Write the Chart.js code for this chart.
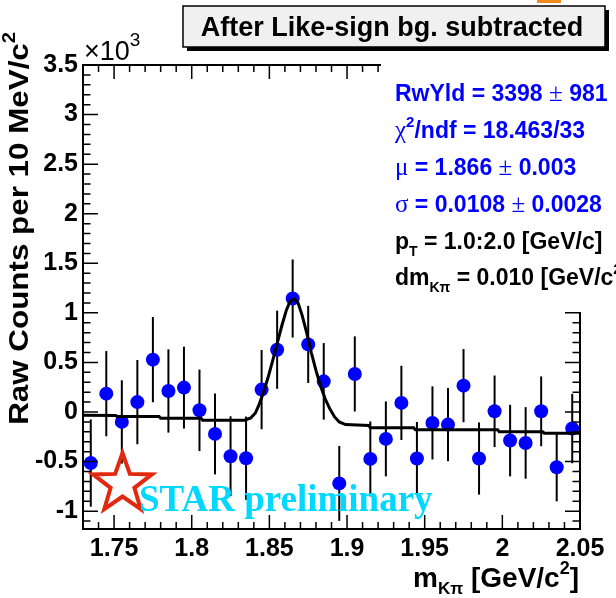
<!DOCTYPE html>
<html>
<head>
<meta charset="utf-8">
<script src="https://cdn.jsdelivr.net/npm/chart.js@4.4.1/dist/chart.umd.min.js"></script>
<style>
html,body{margin:0;padding:0;background:#fff;}
#wrap{width:616px;height:598px;position:relative;}
</style>
</head>
<body>
<div id="wrap"><canvas id="c" width="616" height="598"></canvas></div>
<script>
// ---- data (counts in units of 10^3) ----
const massBins = [1.735,1.745,1.755,1.765,1.775,1.785,1.795,1.805,1.815,1.825,1.835,1.845,1.855,1.865,1.875,1.885,
                  1.895,1.905,1.915,1.925,1.935,1.945,1.955,1.965,1.975,1.985,1.995,2.005,2.015,2.025,2.035,2.045];
const rawCounts = [-0.515,0.185,-0.100,0.100,0.528,0.212,0.246,0.017,-0.221,-0.446,-0.466,0.226,0.628,1.145,0.682,0.309,
                   -0.720,0.384,-0.473,-0.271,0.092,-0.469,-0.110,-0.127,0.266,-0.469,0.007,-0.288,-0.312,0.007,-0.557,-0.167];
const countErrors = [0.44,0.43,0.42,0.425,0.43,0.42,0.413,0.411,0.408,0.403,0.42,0.40,0.394,0.394,0.389,0.386,
                     0.378,0.379,0.378,0.378,0.374,0.369,0.369,0.369,0.369,0.364,0.361,0.361,0.361,0.352,0.344,0.35];
// fit curve
const fitMass = [1.730,1.751,1.752,1.779,1.780,1.806,1.807,1.834,1.838,1.841,1.8435,1.846,1.849,1.852,1.855,1.858,1.861,
                 1.8635,1.866,1.8685,1.871,1.874,1.877,1.880,1.883,1.886,1.889,1.892,1.895,1.899,1.914,1.915,1.943,1.944,
                 1.997,1.998,2.026,2.027,2.050];
const fitCounts = [-0.033,-0.035,-0.046,-0.046,-0.063,-0.063,-0.083,-0.083,-0.06,-0.01,0.08,0.19,0.34,0.51,0.69,0.87,1.03,
                   1.12,1.14,1.10,0.98,0.80,0.60,0.42,0.26,0.13,0.03,-0.05,-0.10,-0.127,-0.135,-0.16,-0.16,-0.18,
                   -0.18,-0.20,-0.20,-0.214,-0.214];
const xTickValues = [1.75,1.8,1.85,1.9,1.95,2.0,2.05];
const xTickLabels = ['1.75','1.8','1.85','1.9','1.95','2','2.05'];
const yTickValues = [-1,-0.5,0,0.5,1,1.5,2,2.5,3,3.5];
const yTickLabels = ['-1','-0.5','0','0.5','1','1.5','2','2.5','3','3.5'];

const SANS = '"Liberation Sans", Arial, Helvetica, sans-serif';
const SERIF = '"Liberation Serif", "Times New Roman", serif';
const BLUE = '#0000ff';

function rich(ctx, x, y, segs, align) {
  let w = 0;
  segs.forEach(s => { ctx.font = s.f; w += ctx.measureText(s.t).width; });
  let cx = align === 'right' ? x - w : (align === 'center' ? x - w / 2 : x);
  segs.forEach(s => {
    ctx.font = s.f; ctx.fillStyle = s.c || '#000';
    ctx.fillText(s.t, cx, y + (s.dy || 0));
    cx += ctx.measureText(s.t).width;
  });
}

const rootStyle = {
  id: 'rootStyle',
  beforeDatasetsDraw(chart) {
    const {ctx, scales: {x, y}} = chart;
    ctx.save();
    ctx.strokeStyle = '#000'; ctx.lineWidth = 2;
    massBins.forEach((m, i) => {
      const px = x.getPixelForValue(m);
      ctx.beginPath();
      ctx.moveTo(px, y.getPixelForValue(rawCounts[i] + countErrors[i]));
      ctx.lineTo(px, y.getPixelForValue(rawCounts[i] - countErrors[i]));
      ctx.stroke();
    });
    ctx.restore();
  },
  afterDraw(chart) {
    const {ctx, chartArea: a, scales: {x, y}} = chart;
    ctx.save();
    // frame
    ctx.strokeStyle = '#000'; ctx.lineWidth = 2;
    ctx.strokeRect(a.left, a.top, a.right - a.left, a.bottom - a.top);
    ctx.lineWidth = 1.5;
    ctx.beginPath();
    for (let k = 0; k <= 32; k++) {
      const v = 1.73 + k * 0.01;
      const px = x.getPixelForValue(v);
      const major = Math.abs(v * 20 - Math.round(v * 20)) < 1e-6;
      const len = major ? 14 : 7;
      ctx.moveTo(px, a.bottom); ctx.lineTo(px, a.bottom - len);
      ctx.moveTo(px, a.top); ctx.lineTo(px, a.top + len);
    }
    for (let k = -11; k <= 35; k++) {
      const py = y.getPixelForValue(k / 10);
      const len = (k % 5 === 0) ? 15 : 7.5;
      ctx.moveTo(a.left, py); ctx.lineTo(a.left + len, py);
      ctx.moveTo(a.right, py); ctx.lineTo(a.right - len, py);
    }
    ctx.stroke();

    // white stats pave covering the upper right of the frame
    ctx.fillStyle = '#fff';
    ctx.fillRect(381, 58, 235, 254);

    ctx.textBaseline = 'alphabetic';
    // title box with shadow
    ctx.fillStyle = '#000';
    ctx.fillRect(187, 10, 422, 41);
    ctx.fillStyle = '#f0f0f0';
    ctx.fillRect(183, 6, 422, 41);
    ctx.strokeStyle = '#000'; ctx.lineWidth = 1.5;
    ctx.strokeRect(183, 6, 422, 41);
    ctx.fillStyle = '#000';
    ctx.font = 'bold 27px ' + SANS;
    ctx.textAlign = 'center';
    ctx.fillText('After Like-sign bg. subtracted', 392, 36);
    ctx.textAlign = 'left';
    // orange sliver at the top
    ctx.fillStyle = '#f08a1c';
    ctx.fillRect(537, 0, 24, 3);

    // x10^3
    rich(ctx, 84, 60, [
      {t: '\u00d710', f: '27px ' + SANS},
      {t: '3', f: '19px ' + SANS, dy: -14}
    ], 'left');

    // stats text
    const B = 'bold 23px ' + SANS, S = '25px ' + SERIF, SUP = 'bold 15px ' + SANS, SUB = 'bold 14px ' + SANS;
    const sx = 395;
    rich(ctx, sx, 101, [{t:'RwYld = 3398 ', f:B, c:BLUE}, {t:'\u00b1', f:S, c:BLUE}, {t:' 981', f:B, c:BLUE}]);
    rich(ctx, sx, 138, [{t:'\u03c7', f:S, c:BLUE}, {t:'2', f:SUP, c:BLUE, dy:-11}, {t:'/ndf = 18.463/33', f:B, c:BLUE}]);
    rich(ctx, sx, 175, [{t:'\u03bc', f:S, c:BLUE}, {t:' = 1.866 ', f:B, c:BLUE}, {t:'\u00b1', f:S, c:BLUE}, {t:' 0.003', f:B, c:BLUE}]);
    rich(ctx, sx, 212, [{t:'\u03c3', f:S, c:BLUE}, {t:' = 0.0108 ', f:B, c:BLUE}, {t:'\u00b1', f:S, c:BLUE}, {t:' 0.0028', f:B, c:BLUE}]);
    rich(ctx, sx, 249, [{t:'p', f:B}, {t:'T', f:SUB, dy:7}, {t:' = 1.0:2.0 [GeV/c]', f:B}]);
    rich(ctx, sx, 285, [{t:'dm', f:B}, {t:'K\u03c0', f:SUB, dy:7}, {t:' = 0.010 [GeV/c', f:B}, {t:'2', f:SUP, dy:-11}]);

    // x axis title
    rich(ctx, 579, 587, [
      {t:'m', f:'bold 28px ' + SANS}, {t:'K\u03c0', f:'bold 17px ' + SANS, dy:7},
      {t:' [GeV/c', f:'bold 28px ' + SANS}, {t:'2', f:'bold 18px ' + SANS, dy:-13},
      {t:']', f:'bold 28px ' + SANS}
    ], 'right');

    // y axis title (rotated)
    ctx.save();
    ctx.translate(28, 0);
    ctx.rotate(-Math.PI / 2);
    ctx.scale(1.12, 1);
    rich(ctx, -32 / 1.12, 0, [
      {t:'Raw Counts per 10 MeV/c', f:'bold 28px ' + SANS},
      {t:'2', f:'bold 18px ' + SANS, dy:-13}
    ], 'right');
    ctx.restore();

    // STAR logo + preliminary
    const cx = a.left + 39.5, cy = a.bottom - 45, R = 31, r = 12.5;
    ctx.beginPath();
    for (let k = 0; k < 10; k++) {
      const ang = -Math.PI / 2 + k * Math.PI / 5;
      const rr = k % 2 === 0 ? R : r;
      const px = cx + rr * Math.cos(ang), py = cy + rr * Math.sin(ang);
      if (k === 0) ctx.moveTo(px, py); else ctx.lineTo(px, py);
    }
    ctx.closePath();
    ctx.strokeStyle = '#e2280e'; ctx.lineWidth = 4; ctx.lineJoin = 'miter';
    ctx.stroke();
    ctx.fillStyle = '#00d8ff';
    ctx.font = 'bold 37px ' + SERIF;
    ctx.fillText('STAR preliminary', a.left + 56, a.bottom - 18);
    ctx.restore();
  }
};

new Chart(document.getElementById('c'), {
  type: 'scatter',
  data: {
    datasets: [
      {label: 'fit', data: fitMass.map((m, i) => ({x: m, y: fitCounts[i]})), showLine: true,
       borderColor: '#000', borderWidth: 3, pointRadius: 0, tension: 0, order: 0},
      {label: 'data', data: massBins.map((m, i) => ({x: m, y: rawCounts[i]})),
       backgroundColor: BLUE, borderColor: BLUE, pointRadius: 7, pointBorderWidth: 0, order: 1}
    ]
  },
  options: {
    responsive: false, devicePixelRatio: 1, animation: false,
    layout: {padding: {left: 0, right: 36, top: 65, bottom: 0}},
    plugins: {legend: {display: false}, tooltip: {enabled: false}},
    scales: {
      x: {
        type: 'linear', min: 1.73, max: 2.05,
        grid: {display: false, drawTicks: false}, border: {display: false},
        afterBuildTicks: s => { s.ticks = xTickValues.map(v => ({value: v})); },
        afterFit: s => { s.height = 69; },
        ticks: {padding: 5, color: '#000', maxRotation: 0, autoSkip: false,
                font: {family: SANS, size: 25, weight: 'bold'},
                callback: (v, i) => xTickLabels[i]}
      },
      y: {
        type: 'linear', min: -1.18, max: 3.5,
        grid: {display: false, drawTicks: false}, border: {display: false},
        afterBuildTicks: s => { s.ticks = yTickValues.map(v => ({value: v})); },
        afterFit: s => { s.width = 83; },
        ticks: {padding: 5, color: '#000', autoSkip: false,
                font: {family: SANS, size: 25, weight: 'bold'},
                callback: (v, i) => yTickLabels[i]}
      }
    }
  },
  plugins: [rootStyle]
});
</script>
</body>
</html>
